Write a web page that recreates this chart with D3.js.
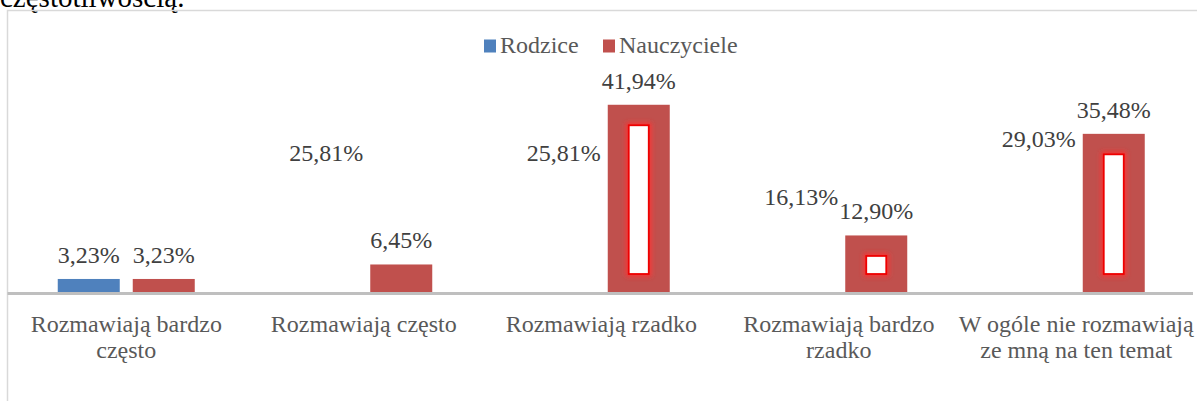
<!DOCTYPE html>
<html>
<head>
<meta charset="utf-8">
<script src="https://d3js.org/d3.v7.min.js"></script>
<title>Rozmowy - Rodzice i Nauczyciele</title>
<style>
	body { margin:0; background:#ffffff; }
	svg  { display:block; }
	svg text, svg tspan { font-family:"Liberation Serif", "Times New Roman", serif !important; }
</style>
</head>
<body>
<div id="chart"></div>
<script>
// data
var categories = ["Rozmawiają bardzo często", "Rozmawiają często", "Rozmawiają rzadko",
                  "Rozmawiają bardzo rzadko", "W ogóle nie rozmawiają ze mną na ten temat"];
var tickLines  = [["Rozmawiają bardzo", "często"], ["Rozmawiają często"], ["Rozmawiają rzadko"],
                  ["Rozmawiają bardzo", "rzadko"], ["W ogóle nie rozmawiają", "ze mną na ten temat"]];
var seriesNames = ["Rodzice", "Nauczyciele"];
var rodzice     = [3.23, 25.81, 25.81, 16.13, 29.03];
var nauczyciele = [3.23, 6.45, 41.94, 12.90, 35.48];
var colors = {"Rodzice":"#4f81bd", "Nauczyciele":"#c0504d"};

var W = 1197, H = 401;
var base = 293.5;
var FONT = '"Liberation Serif", "Times New Roman", serif';

var svg = d3.select("#chart").append("svg")
	.attr("width", W).attr("height", H);

// helper: serif text, forced inline
function serif(sel, size, color) {
	sel.style("font-family", FONT, "important")
	   .style("font-size", size + "px")
	   .style("fill", color);
}

// glow filter for the inner frames
var defs = svg.append("defs");
defs.append("filter").attr("id","glow")
	.attr("x","-50%").attr("y","-50%").attr("width","200%").attr("height","200%")
	.append("feGaussianBlur").attr("stdDeviation", 2.5);

// text cut by the top of the picture
svg.append("text").attr("x", 0).attr("y", 7)
	.call(serif, 29, "#000")
	.text("częstotliwością.");

// chart frame (left + top only visible)
svg.append("path")
	.attr("d", "M7.5," + H + "V10.5H" + W)
	.attr("fill","none").attr("stroke","#d9d9d9").attr("stroke-width",1.5);

// scales
var x = d3.scaleBand().domain(categories).range([7.5, 1195]);
var xs = d3.scaleBand().domain(seriesNames)
	.range([x.bandwidth()/2 - 68.5, x.bandwidth()/2 + 68.5])
	.paddingInner(0.1733);
var y = d3.scaleLinear().domain([0, 45]).range([base, base - 45*4.5]);

// flatten
var rows = [];
categories.forEach(function(c, i) {
	rows.push({cat:c, idx:i, s:"Rodzice", v:rodzice[i]});
	rows.push({cat:c, idx:i, s:"Nauczyciele", v:nauczyciele[i]});
});

// bars
var g = svg.append("g");
g.selectAll("rect.bar").data(rows).enter().append("rect")
	.attr("class","bar")
	.attr("x", function(d){ return x(d.cat) + xs(d.s); })
	.attr("y", function(d){ return y(d.v); })
	.attr("width", xs.bandwidth())
	.attr("height", function(d){ return base - y(d.v); })
	.attr("fill", function(d){
		// only the first Rodzice bar shows up in the picture
		if (d.s == "Rodzice" && d.idx > 0) return "none";
		return colors[d.s];
	});

// odd inner frames in the taller Nauczyciele bars
var tall = rows.filter(function(d){ return d.s == "Nauczyciele" && base - y(d.v) > 40; });
function inner(sel) {
	sel.attr("x", function(d){ return x(d.cat) + xs(d.s) + 21; })
	   .attr("y", function(d){ return y(d.v) + 20.5; })
	   .attr("width", xs.bandwidth() - 42)
	   .attr("height", function(d){ return base - y(d.v) - 40; });
}
g.selectAll("rect.glow").data(tall).enter().append("rect")
	.attr("class","glow").call(inner)
	.attr("fill","none").attr("stroke","#ff3030").attr("stroke-width",5)
	.attr("filter","url(#glow)");
g.selectAll("rect.inner").data(tall).enter().append("rect")
	.attr("class","inner").call(inner)
	.attr("fill","#ffffff").attr("stroke","#ee0000").attr("stroke-width",1.8);

// value labels
g.selectAll("text.lbl").data(rows).enter().append("text")
	.attr("class","lbl")
	.call(serif, 24, "#404040")
	.attr("x", function(d){ return x(d.cat) + xs(d.s) + xs.bandwidth()/2; })
	.attr("y", function(d){ return y(d.v) - 16; })
	.attr("text-anchor","middle")
	.text(function(d){ return d.v.toFixed(2).replace(".", ",") + "%"; });

// category axis
svg.append("line")
	.attr("x1", 7.5).attr("x2", 1193)
	.attr("y1", base).attr("y2", base)
	.attr("stroke","#bfbfbf").attr("stroke-width",3);

var ticks = svg.selectAll("text.tick").data(categories).enter().append("text")
	.attr("class","tick")
	.call(serif, 24, "#595959")
	.attr("text-anchor","middle")
	.attr("transform", function(d){ return "translate(" + (x(d) + x.bandwidth()/2) + ",332)"; });
ticks.each(function(d, i) {
	var t = d3.select(this);
	tickLines[i].forEach(function(line, j) {
		t.append("tspan").attr("x", 0).attr("y", j*26).text(line);
	});
});

// legend
var leg = svg.append("g");
var legX = [484, 603];
seriesNames.forEach(function(s, i) {
	leg.append("rect").attr("x", legX[i]).attr("y", 39.5)
		.attr("width", 12).attr("height", 13).attr("fill", colors[s]);
	leg.append("text")
		.call(serif, 24, "#595959")
		.attr("x", legX[i] + 16).attr("y", 53).text(s);
});
</script>
</body>
</html>
